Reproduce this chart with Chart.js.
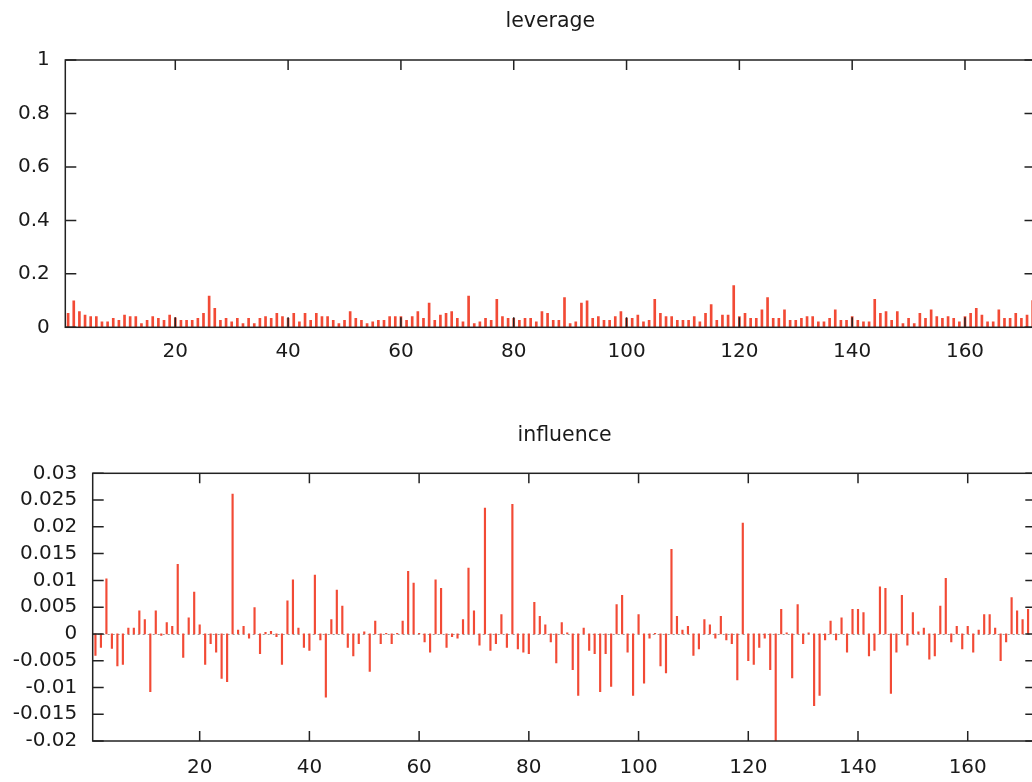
<!DOCTYPE html>
<html>
<head>
<meta charset="utf-8">
<script src="https://cdn.jsdelivr.net/npm/chart.js@4.4.0/dist/chart.umd.min.js"></script>
<style>
  html, body { margin: 0; padding: 0; background: #fff; overflow: hidden; width: 1032px; height: 782px; }
  canvas { position: absolute; left: 0; }
  #leverageChart { top: 0; }
  #influenceChart { top: 400px; }
</style>
</head>
<body>
<canvas id="leverageChart" width="1040" height="380"></canvas>
<canvas id="influenceChart" width="1040" height="382"></canvas>
<script>
// observation index runs 1..172
const leverage = [
  0.052, 0.099, 0.059, 0.046, 0.040, 0.040, 0.020, 0.020, 0.034, 0.026,
  0.046, 0.040, 0.040, 0.014, 0.026, 0.040, 0.034, 0.026, 0.046, 0.035,
  0.026, 0.026, 0.026, 0.034, 0.052, 0.117, 0.071, 0.026, 0.034, 0.020,
  0.034, 0.014, 0.034, 0.014, 0.034, 0.040, 0.034, 0.052, 0.040, 0.034,
  0.052, 0.020, 0.052, 0.026, 0.052, 0.040, 0.040, 0.026, 0.014, 0.026,
  0.059, 0.034, 0.026, 0.014, 0.020, 0.026, 0.026, 0.040, 0.040, 0.040,
  0.026, 0.040, 0.059, 0.034, 0.091, 0.026, 0.046, 0.052, 0.059, 0.034,
  0.020, 0.117, 0.014, 0.020, 0.034, 0.026, 0.105, 0.040, 0.034, 0.034,
  0.026, 0.034, 0.034, 0.020, 0.059, 0.052, 0.026, 0.026, 0.111, 0.014,
  0.020, 0.091, 0.099, 0.034, 0.040, 0.026, 0.026, 0.040, 0.059, 0.034,
  0.034, 0.046, 0.020, 0.026, 0.105, 0.052, 0.040, 0.040, 0.026, 0.026,
  0.026, 0.040, 0.020, 0.052, 0.085, 0.026, 0.046, 0.046, 0.156, 0.040,
  0.052, 0.034, 0.034, 0.065, 0.111, 0.034, 0.034, 0.065, 0.026, 0.026,
  0.034, 0.040, 0.040, 0.020, 0.020, 0.034, 0.065, 0.026, 0.026, 0.040,
  0.026, 0.020, 0.020, 0.105, 0.052, 0.059, 0.026, 0.059, 0.014, 0.034,
  0.014, 0.052, 0.034, 0.065, 0.040, 0.034, 0.040, 0.034, 0.020, 0.040,
  0.052, 0.071, 0.046, 0.020, 0.020, 0.065, 0.034, 0.034, 0.052, 0.034,
  0.046, 0.100
];

const influence = [
  -0.0040, -0.0025, 0.0103, -0.0027, -0.0060, -0.0057, 0.0011, 0.0011, 0.0043, 0.0027,
  -0.0108, 0.0043, -0.0003, 0.0021, 0.0014, 0.0130, -0.0044, 0.0030, 0.0078, 0.0017,
  -0.0057, -0.0018, -0.0034, -0.0083, -0.0089, 0.0261, 0.0007, 0.0014, -0.0008, 0.0049,
  -0.0037, 0.0003, 0.0005, -0.0005, -0.0057, 0.0062, 0.0101, 0.0011, -0.0025, -0.0031,
  0.0110, -0.0011, -0.0118, 0.0027, 0.0082, 0.0052, -0.0025, -0.0041, -0.0018, 0.0004,
  -0.0070, 0.0024, -0.0018, 0.0001, -0.0018, 0.0001, 0.0024, 0.0117, 0.0095, 0.0001,
  -0.0015, -0.0034, 0.0101, 0.0085, -0.0025, -0.0005, -0.0008, 0.0027, 0.0123, 0.0043,
  -0.0021, 0.0235, -0.0031, -0.0018, 0.0036, -0.0025, 0.0242, -0.0028, -0.0034, -0.0037,
  0.0059, 0.0033, 0.0017, -0.0015, -0.0054, 0.0021, 0.0002, -0.0067, -0.0115, 0.0011,
  -0.0031, -0.0037, -0.0108, -0.0037, -0.0098, 0.0055, 0.0072, -0.0034, -0.0115, 0.0036,
  -0.0092, -0.0008, 0.0001, -0.0060, -0.0073, 0.0158, 0.0033, 0.0007, 0.0014, -0.0040,
  -0.0028, 0.0027, 0.0017, -0.0008, 0.0033, -0.0011, -0.0018, -0.0086, 0.0207, -0.0050,
  -0.0057, -0.0025, -0.0008, -0.0067, -0.0220, 0.0046, 0.0002, -0.0082, 0.0055, -0.0018,
  0.0002, -0.0134, -0.0115, -0.0011, 0.0024, -0.0011, 0.0030, -0.0034, 0.0046, 0.0046,
  0.0040, -0.0041, -0.0031, 0.0088, 0.0085, -0.0111, -0.0034, 0.0072, -0.0021, 0.0040,
  0.0004, 0.0011, -0.0047, -0.0041, 0.0052, 0.0104, -0.0015, 0.0014, -0.0028, 0.0014,
  -0.0034, 0.0007, 0.0036, 0.0036, 0.0011, -0.0050, -0.0015, 0.0068, 0.0043, 0.0027,
  0.0046, 0.0040
];

const xTicks = [20, 40, 60, 80, 100, 120, 140, 160];
const leverageTicks = [0, 0.2, 0.4, 0.6, 0.8, 1];
const leverageTickLabels = ["0", "0.2", "0.4", "0.6", "0.8", "1"];
const influenceTicks = [-0.02, -0.015, -0.01, -0.005, 0, 0.005, 0.01, 0.015, 0.02, 0.025, 0.03];
const influenceTickLabels = ["-0.02", "-0.015", "-0.01", "-0.005", "0", "0.005", "0.01", "0.015", "0.02", "0.025", "0.03"];

const FONT = "'DejaVu Sans', sans-serif";
const TEXT = "#1a1a1a";
const RED = "#f24a35";

// gnuplot-like frame: border + inward ticks on all four sides
const framePlugin = {
  id: "frame",
  beforeDatasetsDraw(chart, args, opts) {
    if (!opts.zeroLine) return;
    const { ctx, chartArea: a, scales: { y } } = chart;
    const py = Math.round(y.getPixelForValue(0)) + 0.5;
    ctx.save();
    ctx.strokeStyle = "#999";
    ctx.lineWidth = 1;
    ctx.setLineDash([2, 3]);
    ctx.beginPath();
    ctx.moveTo(a.left, py);
    ctx.lineTo(a.right, py);
    ctx.stroke();
    ctx.restore();
  },
  afterDraw(chart) {
    const { ctx, chartArea: a, scales: { x, y } } = chart;
    ctx.save();
    ctx.strokeStyle = "#222";
    ctx.lineWidth = 1.5;
    ctx.strokeRect(a.left, a.top, a.right - a.left, a.bottom - a.top);
    ctx.beginPath();
    x.ticks.forEach((t) => {
      const px = x.getPixelForValue(t.value);
      ctx.moveTo(px, a.bottom); ctx.lineTo(px, a.bottom - 10);
      ctx.moveTo(px, a.top); ctx.lineTo(px, a.top + 10);
    });
    y.ticks.forEach((t) => {
      const py = y.getPixelForValue(t.value);
      ctx.moveTo(a.left, py); ctx.lineTo(a.left + 11, py);
      ctx.moveTo(a.right, py); ctx.lineTo(a.right - 11, py);
    });
    ctx.stroke();
    ctx.restore();
  },
};

function makeChart(id, cfg) {
  const points = cfg.values.map((v, i) => ({ x: i + 1, y: v }));
  return new Chart(document.getElementById(id), {
    type: "bar",
    data: {
      datasets: [{
        data: points,
        backgroundColor: RED,
        borderWidth: 0,
        barThickness: cfg.barWidth,
      }],
    },
    plugins: [framePlugin],
    options: {
      responsive: false,
      animation: false,
      layout: { padding: { left: 0, right: cfg.padRight, top: 0, bottom: 0 } },
      plugins: {
        legend: { display: false },
        tooltip: { enabled: false },
        frame: { zeroLine: cfg.zeroLine },
        title: {
          display: true,
          text: cfg.title,
          fullSize: false,
          color: TEXT,
          font: { family: FONT, size: 20.5, weight: "normal" },
          padding: { top: cfg.titleTop, bottom: cfg.titleBottom },
        },
      },
      scales: {
        x: {
          type: "linear",
          min: 0.5,
          max: 172.5,
          offset: false,
          grid: { display: false, drawTicks: false, offset: false },
          border: { display: false },
          afterBuildTicks: (s) => { s.ticks = xTicks.map((v) => ({ value: v })); },
          afterFit: (s) => { s.height = cfg.xHeight; },
          ticks: {
            color: TEXT,
            padding: cfg.xPad,
            maxRotation: 0,
            autoSkip: false,
            font: { family: FONT, size: 20 },
            callback: (v) => String(v),
          },
        },
        y: {
          type: "linear",
          min: cfg.yTicks[0],
          max: cfg.yTicks[cfg.yTicks.length - 1],
          grid: { display: false, drawTicks: false },
          border: { display: false },
          afterBuildTicks: (s) => { s.ticks = cfg.yTicks.map((v) => ({ value: v })); },
          afterFit: (s) => { s.width = cfg.yWidth; },
          ticks: {
            color: TEXT,
            padding: 15.5,
            autoSkip: false,
            font: { family: FONT, size: 20 },
            callback: (v, i) => cfg.yLabels[i],
          },
        },
      },
    },
  });
}

makeChart("leverageChart", {
  title: "leverage",
  values: leverage,
  yTicks: leverageTicks,
  yLabels: leverageTickLabels,
  barWidth: 2,
  zeroLine: false,
  yWidth: 65.3,
  xHeight: 52.7,
  xPad: 12.7,
  padRight: 4.5,
  titleTop: 9.7,
  titleBottom: 25.7,
});

makeChart("influenceChart", {
  title: "influence",
  values: influence,
  yTicks: influenceTicks,
  yLabels: influenceTickLabels,
  barWidth: 1.5,
  zeroLine: true,
  yWidth: 92.7,
  xHeight: 41,
  xPad: 14.5,
  padRight: 3.7,
  titleTop: 23.7,
  titleBottom: 25,
});
</script>
</body>
</html>
